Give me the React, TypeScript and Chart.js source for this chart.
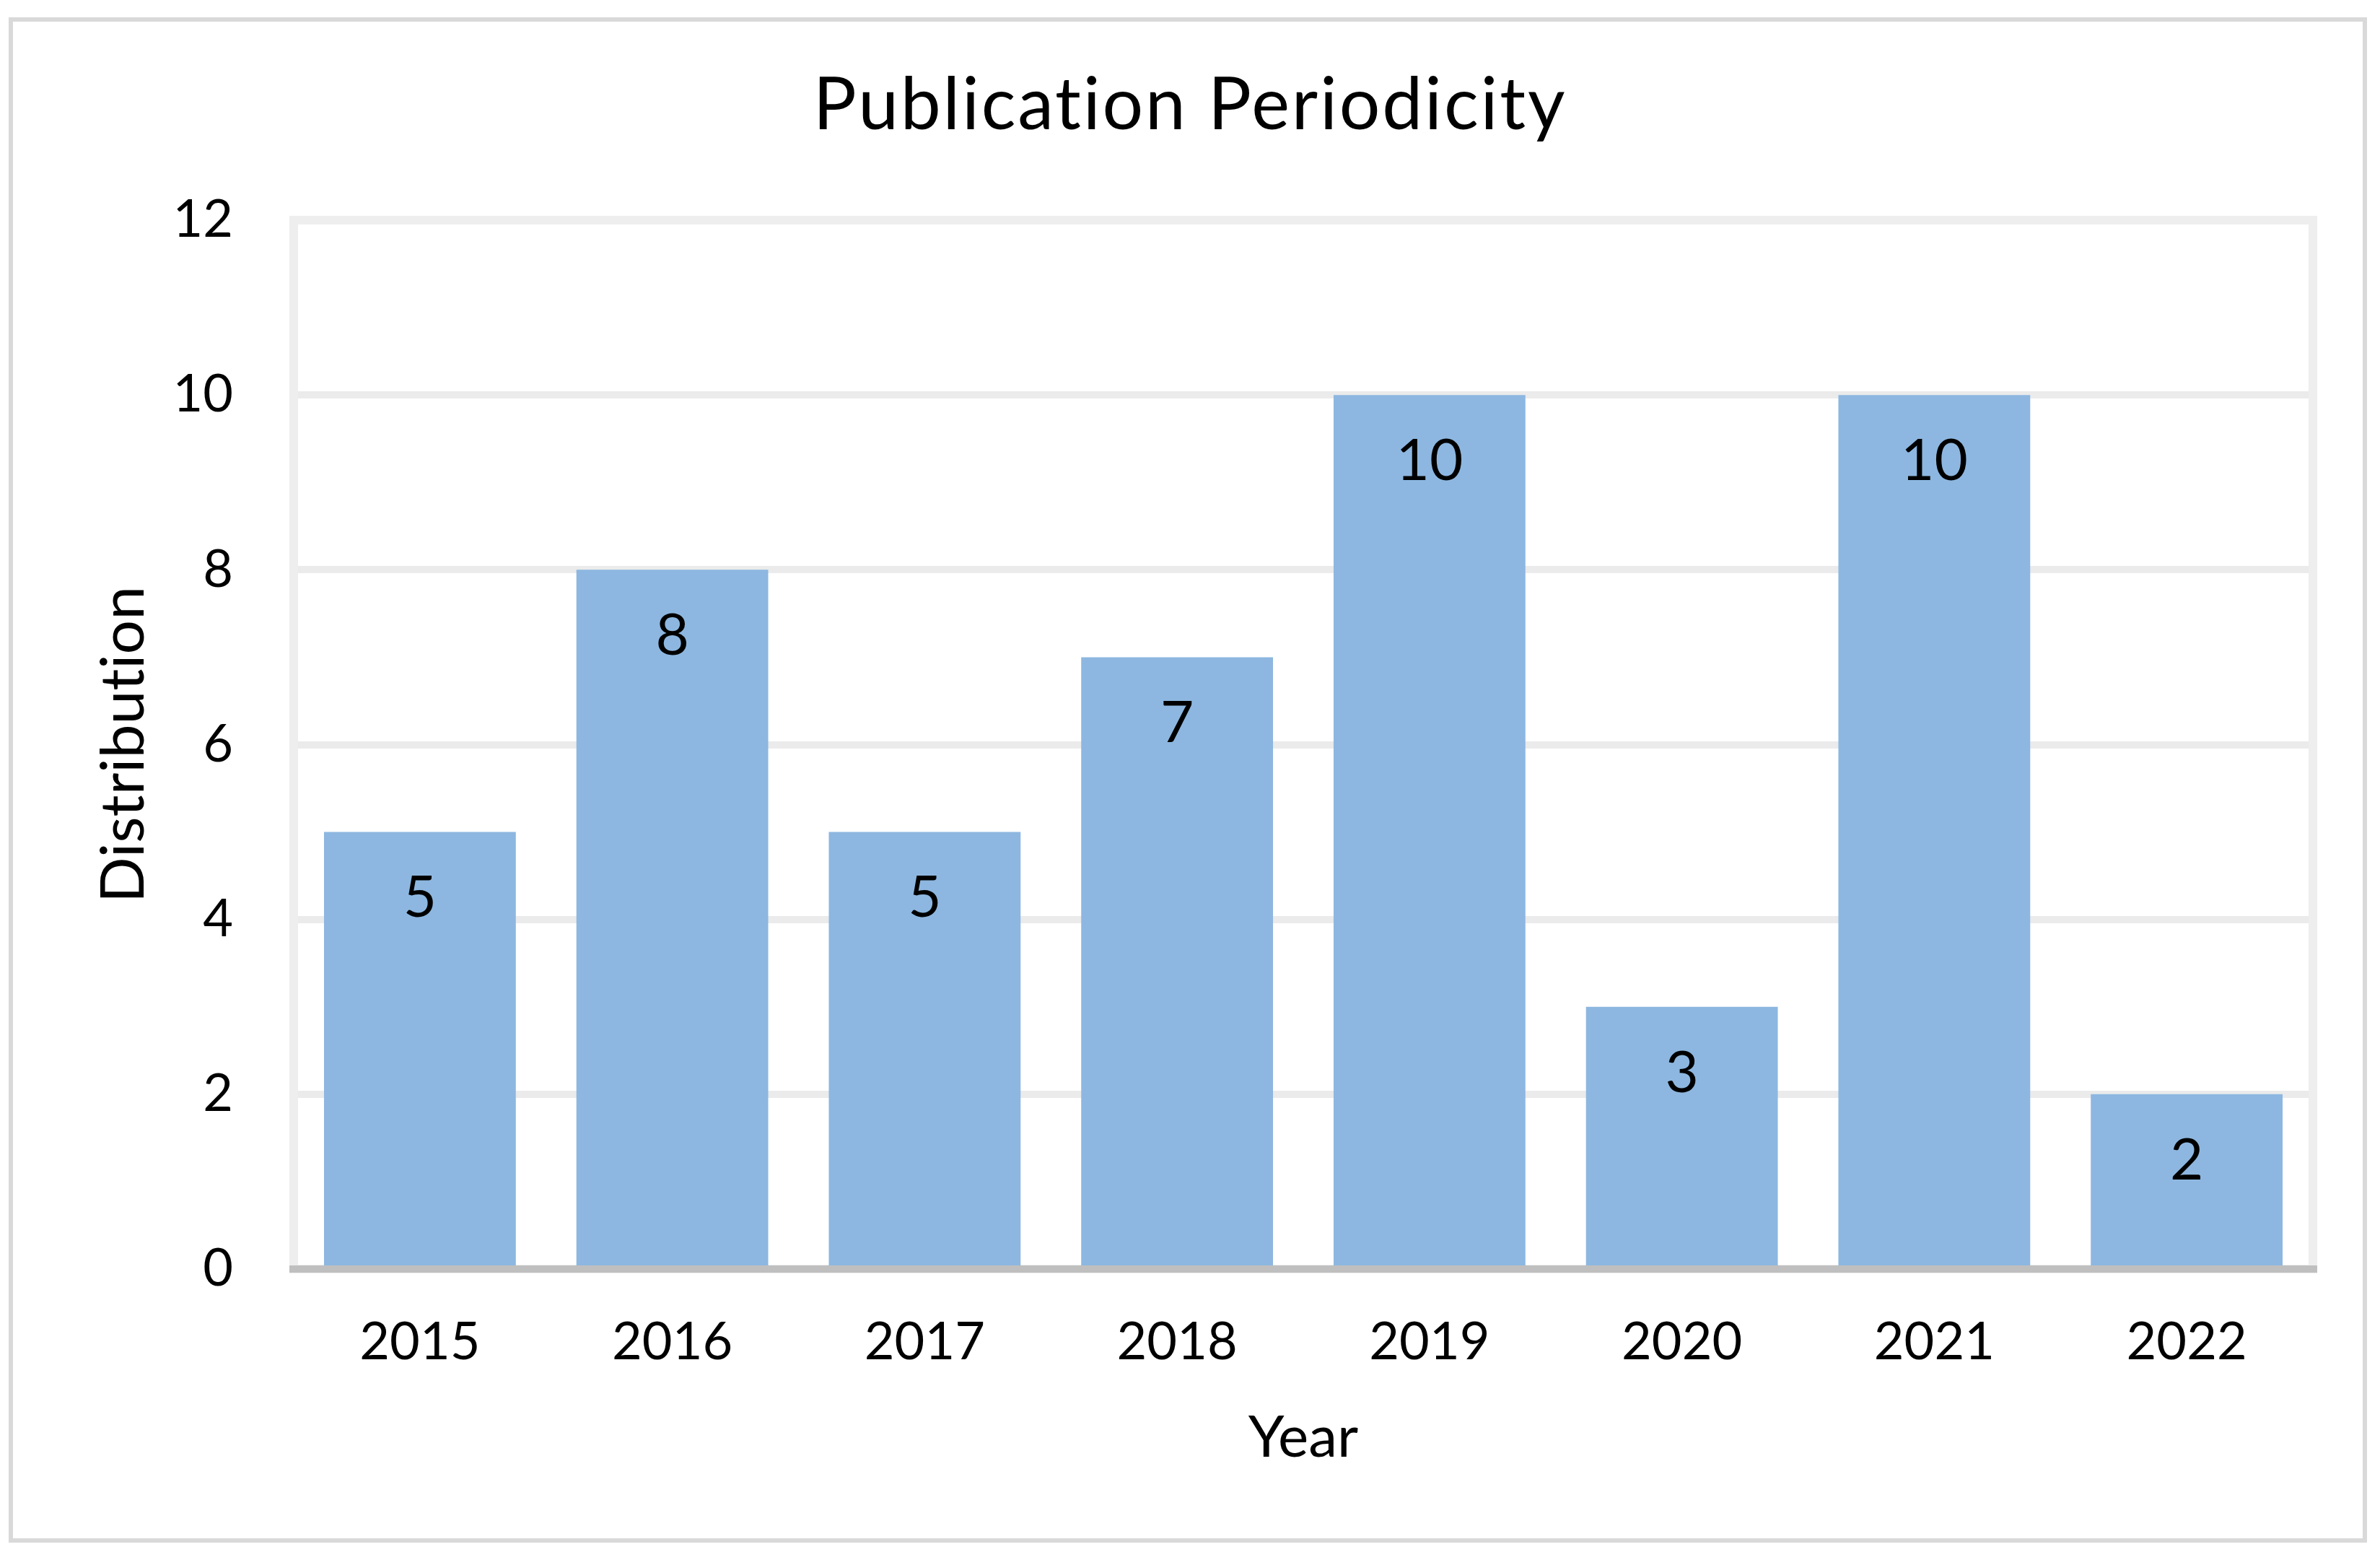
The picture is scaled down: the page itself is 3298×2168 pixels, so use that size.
import React, { useEffect, useRef } from "react";
import { Chart, registerables } from "chart.js";

Chart.register(...registerables);

const years = ["2015", "2016", "2017", "2018", "2019", "2020", "2021", "2022"];
const counts = [5, 8, 5, 7, 10, 3, 10, 2];
const yMin = 0;
const yMax = 12;
const yStep = 2;

const chartTitle = "Publication Periodicity";
const xTitle = "Year";
const yTitle = "Distribution";

const W = 3298;
const H = 2168;
const FONT = "Lato, 'Noto Sans', sans-serif";

const framePlugin = {
  id: "frame",
  afterLayout(chart: any) {
    const tb = chart.titleBlock;
    if (tb && !tb.__spaced) {
      const orig = tb.draw.bind(tb);
      tb.draw = (...args: any[]) => {
        const ctx = chart.ctx;
        ctx.save();
        ctx.letterSpacing = "2.8px";
        orig(...args);
        ctx.restore();
      };
      tb.__spaced = true;
    }
  },
  beforeDraw(chart: any) {
    const ctx = chart.ctx;
    ctx.save();
    ctx.fillStyle = "#ffffff";
    ctx.fillRect(0, 0, chart.width, chart.height);
    ctx.strokeStyle = "#d9d9d9";
    ctx.lineWidth = 6;
    ctx.strokeRect(15, 27, 3262, 2107);
    ctx.restore();
    try {
      ctx.textRendering = "optimizeSpeed";
    } catch (e) {
      /* ignore */
    }
  },
  beforeDatasetsDraw(chart: any) {
    const { ctx, chartArea } = chart;
    ctx.save();
    ctx.strokeStyle = "#eeeeee";
    ctx.lineWidth = 12;
    ctx.strokeRect(chartArea.left, chartArea.top, chartArea.right - chartArea.left, chartArea.bottom - chartArea.top);
    ctx.restore();
  },
  afterDatasetsDraw(chart: any) {
    const { ctx, chartArea } = chart;
    ctx.save();
    ctx.strokeStyle = "#bfbfbf";
    ctx.lineWidth = 10;
    ctx.beginPath();
    ctx.moveTo(chartArea.left - 6, chartArea.bottom);
    ctx.lineTo(chartArea.right + 6, chartArea.bottom);
    ctx.stroke();

    const meta = chart.getDatasetMeta(0);
    ctx.fillStyle = "#000000";
    ctx.font = `80px ${FONT}`;
    ctx.textAlign = "center";
    ctx.textBaseline = "middle";
    meta.data.forEach((bar: any, i: number) => {
      ctx.fillText(String(counts[i]), bar.x, bar.y + 92);
    });
    ctx.restore();
  },
};

export default function App() {
  const ref = useRef<HTMLCanvasElement | null>(null);

  useEffect(() => {
    document.body.style.margin = "0";
    if (!ref.current) return;
    const chart = new Chart(ref.current, {
      type: "bar",
      data: {
        labels: years,
        datasets: [
          {
            label: "Distribution",
            data: counts,
            backgroundColor: "#8db7e0",
            borderWidth: 0,
            barPercentage: 0.76,
            categoryPercentage: 1.0,
          },
        ],
      },
      options: {
        responsive: false,
        animation: false,
        devicePixelRatio: 1,
        layout: { padding: 0 },
        plugins: {
          legend: { display: false },
          tooltip: { enabled: false },
          title: {
            display: true,
            text: chartTitle,
            color: "#000000",
            font: { family: FONT, size: 100, weight: "normal", lineHeight: 1.2 },
            padding: { top: 87, bottom: 98 },
          },
        },
        scales: {
          x: {
            grid: { display: false, drawTicks: false },
            border: { display: false },
            ticks: {
              color: "#000000",
              font: { family: FONT, size: 72, lineHeight: 1.2 },
              padding: 59,
              maxRotation: 0,
              autoSkip: false,
            },
            title: {
              display: true,
              text: xTitle,
              color: "#000000",
              font: { family: FONT, size: 80, lineHeight: 1.2 },
              padding: { top: 0, bottom: 128 },
            },
            afterFit: (s: any) => {
              s.height = 410;
            },
          },
          y: {
            min: yMin,
            max: yMax,
            grid: { color: "#ebebeb", lineWidth: 10, drawTicks: false },
            border: { display: false },
            ticks: {
              stepSize: yStep,
              color: "#000000",
              font: { family: FONT, size: 72, lineHeight: 1.2 },
              padding: 84,
            },
            title: {
              display: true,
              text: yTitle,
              color: "#000000",
              font: { family: FONT, size: 84, lineHeight: 1.2 },
              padding: { top: 122, bottom: 0 },
            },
            afterFit: (s: any) => {
              s.width = 407;
            },
          },
          yRight: {
            position: "right",
            min: yMin,
            max: yMax,
            grid: { display: false, drawTicks: false },
            border: { display: false },
            ticks: { display: false },
            afterFit: (s: any) => {
              s.width = 93;
            },
          },
        },
      },
      plugins: [framePlugin],
    } as any);
    return () => chart.destroy();
  }, []);

  return <canvas ref={ref} width={W} height={H} style={{ display: "block" }} />;
}
